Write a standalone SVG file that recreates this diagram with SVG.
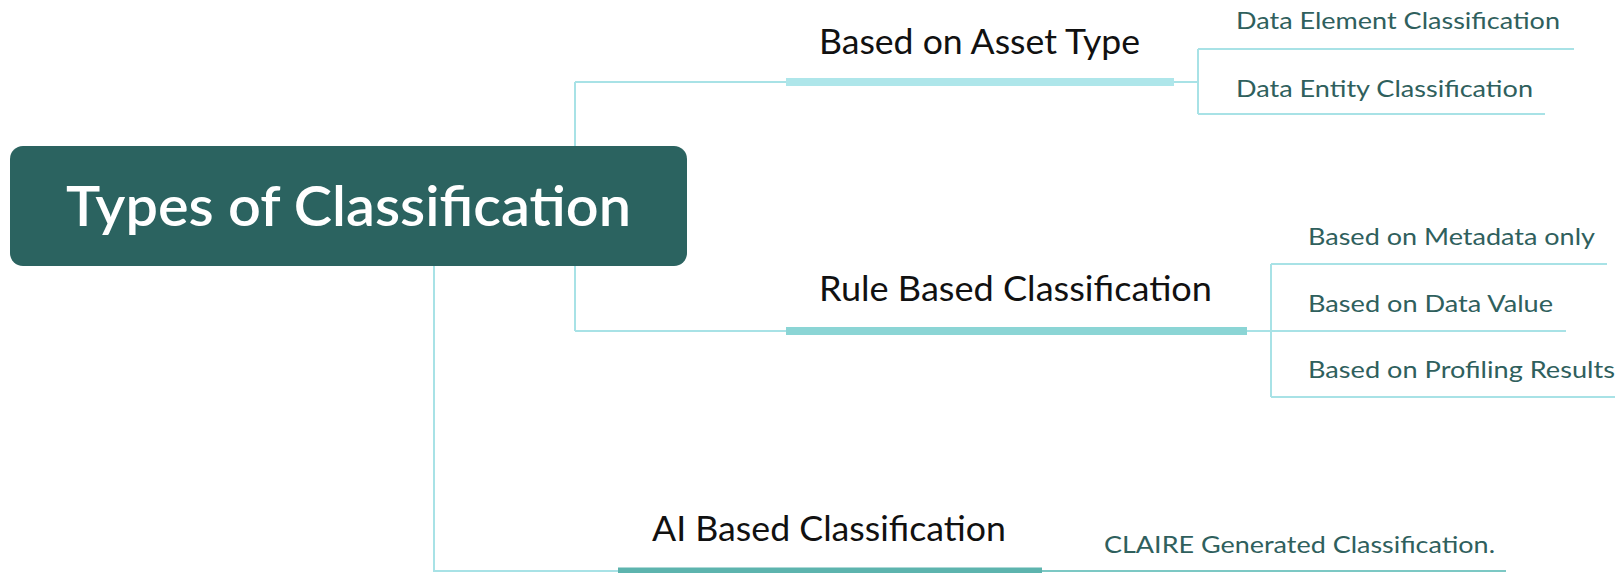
<svg xmlns="http://www.w3.org/2000/svg" width="1615" height="573" viewBox="0 0 1615 573">
<style>
.thin{fill:none;stroke:#A8E2E6;stroke-width:2}
.branch{font-family:Lato,"Liberation Sans",sans-serif;font-size:34px;fill:#111111}
.leaf{font-family:Lato,"Liberation Sans",sans-serif;font-size:24px;fill:#2F605D}
.title{font-family:Lato,"Liberation Sans",sans-serif;font-size:55px;font-weight:600;fill:#FFFFFF}
</style>
<rect width="1615" height="573" fill="#FFFFFF"/>
<g id="connectors">
<path class="thin" d="M575,82 V331 M575,82 H786 M575,331 H786"/>
<path class="thin" d="M434,266 V571 H618"/>
<path class="thin" d="M1174,82 H1198 M1198,49 V114 M1198,49 H1574 M1198,114 H1545"/>
<path class="thin" d="M1247,331 H1271 M1271,264 V397 M1271,264 H1607 M1271,331 H1566 M1271,397 H1615"/>
<path class="thin" d="M1042,571 H1506" style="stroke:#7CC8C4"/>
<line x1="786" y1="82" x2="1174" y2="82" stroke="#AEE6EA" stroke-width="8"/>
<line x1="786" y1="331" x2="1247" y2="331" stroke="#8BD5D5" stroke-width="8"/>
<line x1="618" y1="571" x2="1042" y2="571" stroke="#5DB4AE" stroke-width="7"/>
</g>
<g id="root">
<rect x="10" y="146" width="677" height="120" rx="13" fill="#2B6360"/>
<text class="title" x="66" y="226" textLength="565" lengthAdjust="spacingAndGlyphs">Types of Classification</text>
</g>
<g id="asset-type">
<text class="branch" x="819" y="54" textLength="321" lengthAdjust="spacingAndGlyphs">Based on Asset Type</text>
</g>
<g id="data-element">
<text class="leaf" x="1236" y="29" textLength="324" lengthAdjust="spacingAndGlyphs">Data Element Classification</text>
</g>
<g id="data-entity">
<text class="leaf" x="1236" y="97" textLength="297" lengthAdjust="spacingAndGlyphs">Data Entity Classification</text>
</g>
<g id="rule-based">
<text class="branch" x="819" y="301" textLength="393" lengthAdjust="spacingAndGlyphs">Rule Based Classification</text>
</g>
<g id="metadata-only">
<text class="leaf" x="1308" y="245" textLength="287" lengthAdjust="spacingAndGlyphs">Based on Metadata only</text>
</g>
<g id="data-value">
<text class="leaf" x="1308" y="312" textLength="245" lengthAdjust="spacingAndGlyphs">Based on Data Value</text>
</g>
<g id="profiling-results">
<text class="leaf" x="1308" y="378" textLength="307" lengthAdjust="spacingAndGlyphs">Based on Profiling Results</text>
</g>
<g id="ai-based">
<text class="branch" x="652" y="541" textLength="354" lengthAdjust="spacingAndGlyphs">AI Based Classification</text>
</g>
<g id="claire">
<text class="leaf" x="1104" y="553" textLength="391" lengthAdjust="spacingAndGlyphs">CLAIRE Generated Classification.</text>
</g>
</svg>
